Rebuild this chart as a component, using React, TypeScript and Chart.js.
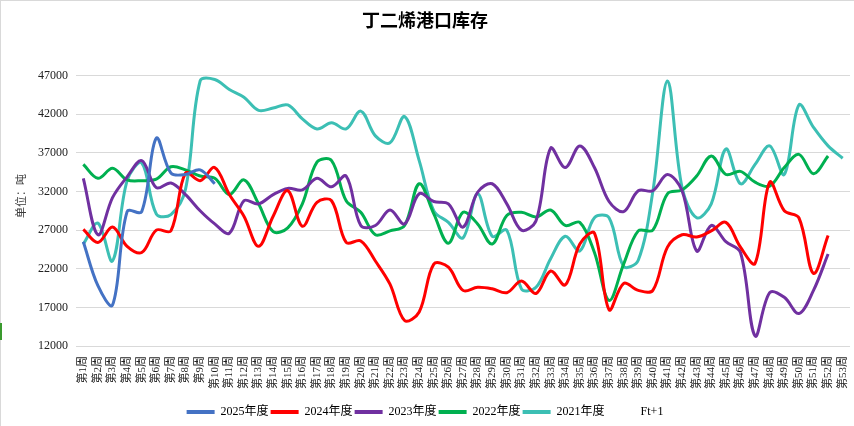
import React, { useEffect, useRef } from "react";
import { Chart, registerables } from "chart.js";

Chart.register(...registerables);

const TITLE = "丁二烯港口库存";
const Y_TITLE = "单位：吨";
const WEEKS = [
  "第1周", "第2周", "第3周", "第4周", "第5周", "第6周", "第7周", "第8周", "第9周", "第10周",
  "第11周", "第12周", "第13周", "第14周", "第15周", "第16周", "第17周", "第18周", "第19周", "第20周",
  "第21周", "第22周", "第23周", "第24周", "第25周", "第26周", "第27周", "第28周", "第29周", "第30周",
  "第31周", "第32周", "第33周", "第34周", "第35周", "第36周", "第37周", "第38周", "第39周", "第40周",
  "第41周", "第42周", "第43周", "第44周", "第45周", "第46周", "第47周", "第48周", "第49周", "第50周",
  "第51周", "第52周", "第53周",
];
const SERIES_NAMES = ["2025年度", "2024年度", "2023年度", "2022年度", "2021年度", "Ft+1"];
const Y_MIN = 12000;
const Y_MAX = 47000;
const Y_STEP = 5000;

const V2025 = [25500, 19800, 17300, 29400, 29400, 38900, 34400, 34200, 34800, 33000];
const V2024 = [
  27100, 25400, 27400, 24900, 24100, 27000, 26900, 34400, 33400, 35100,
  31600, 28800, 24900, 28800, 32100, 27500, 30600, 30800, 25400, 25600,
  23000, 20000, 15300, 16400, 22600, 22200, 19200, 19600, 19400, 18900,
  20400, 18800, 21700, 19900, 25200, 26600, 16700, 20100, 19200, 19200,
  24800, 26400, 26100, 26900, 28000, 24800, 22700, 33200, 29500, 28600,
  21400, 26300,
];
const V2023 = [
  33700, 26400, 31200, 33900, 36000, 32500, 33100, 31600, 29500, 27800,
  26600, 30800, 30400, 31600, 32400, 32200, 33700, 32600, 34000, 27600,
  27600, 29600, 27800, 31700, 30700, 30400, 27400, 31900, 33000, 30400,
  27000, 28200, 37600, 35100, 37900, 35100, 30700, 29400, 32100, 32100,
  34200, 32100, 24300, 27600, 25500, 24100, 13300, 18900, 18300, 16200,
  19200, 23900,
];
const V2022 = [
  35500, 33700, 35000, 33500, 33400, 33600, 35200, 34800, 34000, 33700,
  31600, 33500, 30400, 26800, 27300, 30400, 35800, 36000, 30800, 29300,
  26400, 26900, 27600, 33000, 29100, 25300, 29300, 27800, 25200, 28900,
  29300, 28700, 29600, 27600, 28000, 24100, 17900, 22600, 26900, 27000,
  31700, 32200, 34000, 36600, 34200, 34600, 33200, 32700, 35100, 36800,
  34300, 36600,
];
const V2021 = [
  25200, 27900, 23000, 33400, 35700, 29100, 29000, 32300, 46300, 46500,
  45200, 44200, 42500, 42800, 43200, 41400, 40100, 40900, 40100, 42400,
  39200, 38300, 41700, 36000, 29500, 28000, 26000, 31700, 26200, 27000,
  19400, 19600, 23300, 26200, 24300, 28600, 28600, 22300, 23100, 32000,
  46300, 32500, 28600, 30400, 37500, 33000, 35500, 37900, 34200, 43200,
  40300, 37900, 36300,
];
const VFT1: number[] = [];

const COLORS = ["#4472C4", "#FF0000", "#7030A0", "#00B050", "#3CBFB4", "rgba(0,0,0,0)"];

export default function App() {
  const ref = useRef<HTMLCanvasElement>(null);

  useEffect(() => {
    if (!ref.current) return;
    const serif = "'Liberation Serif', 'Times New Roman', 'Noto Sans CJK SC', serif";
    const series = [V2025, V2024, V2023, V2022, V2021, VFT1];
    const datasets = series.map((d, i) => ({
      label: SERIES_NAMES[i],
      data: d,
      borderColor: COLORS[i],
      backgroundColor: COLORS[i],
      borderWidth: 3,
      pointRadius: 0,
      pointHoverRadius: 0,
      tension: 0.35,
      fill: false,
    }));

    const yTitlePlugin = {
      id: "yTitle",
      afterDraw(c: any) {
        const ctx = c.ctx;
        ctx.save();
        ctx.translate(22, 196);
        ctx.rotate(-Math.PI / 2);
        ctx.font = "11px " + serif;
        ctx.fillStyle = "#3a3a3a";
        ctx.textAlign = "center";
        ctx.textBaseline = "middle";
        ctx.fillText(Y_TITLE, 0, 0);
        ctx.restore();
      },
    };

    const chart = new Chart(ref.current, {
      type: "line",
      data: { labels: WEEKS, datasets },
      plugins: [yTitlePlugin],
      options: {
        responsive: false,
        animation: false,
        layout: { padding: { left: 0, right: 4, top: 0, bottom: -2 } },
        plugins: {
          title: {
            display: true,
            text: TITLE,
            color: "#000",
            font: { size: 18, weight: "bold", family: "'Noto Sans CJK SC', sans-serif" },
            padding: { top: 9, bottom: 45 },
          },
          legend: {
            position: "bottom",
            labels: {
              boxWidth: 28,
              boxHeight: 4,
              padding: 2,
              color: "#000",
              font: { size: 12, family: serif },
              generateLabels: (c: any) =>
                c.data.datasets.map((ds: any, i: number) => ({
                  text: ds.label,
                  fillStyle: ds.borderColor,
                  strokeStyle: ds.borderColor,
                  lineWidth: 0,
                  hidden: false,
                  datasetIndex: i,
                  fontColor: "#000",
                })),
            },
          },
          tooltip: { enabled: false },
        },
        scales: {
          x: {
            offset: true,
            grid: { display: false, drawTicks: false },
            border: { display: false },
            ticks: {
              autoSkip: false,
              maxRotation: 90,
              minRotation: 90,
              padding: 10,
              color: "#222",
              font: { size: 11, family: serif },
            },
            afterFit: (s: any) => {
              s.height = 58;
              s.paddingLeft = 0;
              s.paddingRight = 0;
            },
          },
          y: {
            min: Y_MIN,
            max: Y_MAX,
            ticks: {
              stepSize: Y_STEP,
              padding: 8,
              color: "#222",
              font: { size: 12, family: serif },
              callback: (v: any) => String(v),
            },
            grid: { color: "#d9d9d9", lineWidth: 1, drawTicks: false },
            border: { display: false },
            afterFit: (s: any) => {
              s.width = 76;
            },
          },
        },
      },
    });
    return () => chart.destroy();
  }, []);

  return (
    <div style={{ position: "absolute", left: 0, top: 0, width: 854, height: 426, background: "#fff" }}>
      <canvas ref={ref} width={854} height={426} style={{ display: "block" }} />
      <div
        style={{
          position: "absolute",
          left: 0,
          top: 0,
          width: 854,
          height: 426,
          boxSizing: "border-box",
          borderTop: "1px solid #d9d9d9",
          borderLeft: "1px solid #d9d9d9",
          pointerEvents: "none",
        }}
      />
      <div style={{ position: "absolute", left: 0, top: 323, width: 2, height: 17, background: "#3a9a2e" }} />
    </div>
  );
}
